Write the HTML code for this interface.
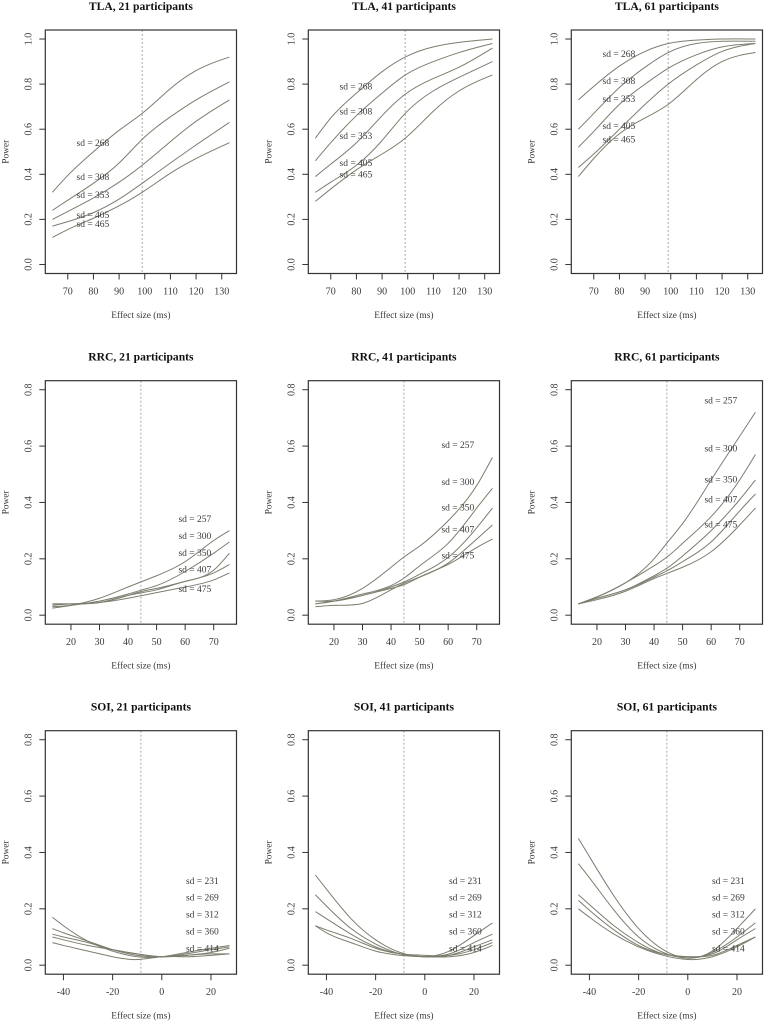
<!DOCTYPE html>
<html>
<head>
<meta charset="utf-8">
<title>Power curves</title>
<style>
html,body{margin:0;padding:0;background:#fff;}
svg{display:block;}
text{font-family:"Liberation Serif",serif;fill:#3a3a3a;}
</style>
</head>
<body>
<svg id="chart" xmlns="http://www.w3.org/2000/svg" width="765" height="1023" viewBox="0 0 765 1023"></svg>
<script>
// Shared sample positions (effect size, ms)
const tlaEffect = [64,70,80,90,99,110,120,133];
const rrcEffect = [13.5,20,30,40,45,50,60,70,75.5];
const soiEffect = [-44.5,-40,-30,-20,-10,0,10,20,27.5];

// Tick labels
const tlaXTicks = [70,80,90,100,110,120,130];
const rrcXTicks = [20,30,40,50,60,70];
const soiXTicks = [-40,-20,0,20];
const tlaYTicks = ["0.0","0.2","0.4","0.6","0.8","1.0"];
const lowYTicks = ["0.0","0.2","0.4","0.6","0.8"];

// Standard deviations
const tlaSd = [268,308,353,405,465];
const rrcSd = [257,300,350,407,475];
const soiSd = [231,269,312,360,414];

// Reference effect sizes (dotted lines)
const tlaRef = 99;
const rrcRef = 44.5;
const soiRef = -8.5;

// Annotation anchors (effect size / power)
const tlaLabelX = 79.8;
const rrcLabelX = 63.4;
const soiLabelX = 16.5;
const tla21LabelPower = [0.54,0.39,0.31,0.22,0.18];
const tla41LabelPower = [0.79,0.68,0.57,0.45,0.40];
const tla61LabelPower = [0.935,0.815,0.735,0.615,0.555];
const rrc21LabelPower = [0.342,0.282,0.222,0.162,0.094];
const rrc41LabelPower = [0.604,0.473,0.383,0.304,0.213];
const rrc61LabelPower = [0.763,0.592,0.483,0.412,0.323];
const soiLabelPower = [0.30,0.24,0.18,0.12,0.06];

// Power values
const tla21Power = [
  [0.32,0.395,0.50,0.595,0.67,0.78,0.86,0.92],
  [0.24,0.285,0.36,0.45,0.555,0.655,0.73,0.81],
  [0.20,0.235,0.295,0.365,0.44,0.545,0.635,0.73],
  [0.17,0.19,0.23,0.29,0.36,0.45,0.53,0.63],
  [0.12,0.155,0.205,0.26,0.32,0.405,0.47,0.54]
];
const tla41Power = [
  [0.56,0.65,0.76,0.855,0.92,0.965,0.985,1.0],
  [0.46,0.54,0.66,0.76,0.84,0.90,0.94,0.98],
  [0.39,0.445,0.54,0.66,0.755,0.825,0.875,0.96],
  [0.32,0.365,0.44,0.55,0.67,0.77,0.83,0.90],
  [0.28,0.335,0.42,0.49,0.56,0.68,0.77,0.84]
];
const tla61Power = [
  [0.73,0.79,0.88,0.945,0.98,0.995,1.0,1.0],
  [0.60,0.67,0.785,0.875,0.94,0.98,0.99,0.99],
  [0.52,0.59,0.71,0.80,0.87,0.93,0.965,0.98],
  [0.43,0.49,0.60,0.71,0.80,0.885,0.945,0.98],
  [0.39,0.47,0.58,0.65,0.71,0.82,0.90,0.94]
];
const rrc21Power = [
  [0.025,0.035,0.06,0.10,0.12,0.14,0.19,0.265,0.30],
  [0.03,0.035,0.05,0.075,0.09,0.105,0.155,0.22,0.26],
  [0.04,0.04,0.045,0.07,0.08,0.09,0.12,0.16,0.22],
  [0.04,0.04,0.045,0.07,0.085,0.095,0.12,0.15,0.18],
  [0.035,0.04,0.045,0.06,0.07,0.08,0.10,0.125,0.15]
];
const rrc41Power = [
  [0.05,0.055,0.095,0.17,0.21,0.245,0.335,0.46,0.56],
  [0.04,0.05,0.075,0.105,0.135,0.175,0.255,0.38,0.45],
  [0.04,0.05,0.07,0.10,0.12,0.145,0.205,0.31,0.38],
  [0.03,0.035,0.042,0.09,0.115,0.135,0.185,0.27,0.32],
  [0.05,0.05,0.07,0.095,0.11,0.135,0.18,0.24,0.27]
];
const rrc61Power = [
  [0.04,0.065,0.115,0.20,0.262,0.325,0.48,0.635,0.72],
  [0.04,0.065,0.115,0.175,0.21,0.255,0.35,0.48,0.57],
  [0.04,0.06,0.09,0.14,0.17,0.21,0.30,0.41,0.48],
  [0.04,0.06,0.09,0.135,0.16,0.19,0.26,0.37,0.43],
  [0.04,0.055,0.085,0.13,0.15,0.17,0.225,0.32,0.38]
];
const soi21Power = [
  [0.17,0.14,0.085,0.05,0.03,0.03,0.045,0.06,0.07],
  [0.13,0.115,0.085,0.055,0.035,0.03,0.04,0.055,0.065],
  [0.11,0.10,0.08,0.055,0.04,0.03,0.035,0.045,0.06],
  [0.10,0.09,0.07,0.055,0.04,0.03,0.035,0.04,0.04],
  [0.08,0.07,0.05,0.03,0.02,0.03,0.03,0.035,0.04]
];
const soi41Power = [
  [0.32,0.27,0.165,0.09,0.045,0.03,0.05,0.105,0.15],
  [0.25,0.21,0.13,0.075,0.04,0.03,0.04,0.08,0.11],
  [0.19,0.165,0.11,0.065,0.04,0.03,0.035,0.065,0.09],
  [0.14,0.125,0.095,0.06,0.04,0.035,0.035,0.055,0.08],
  [0.14,0.115,0.08,0.05,0.035,0.03,0.03,0.045,0.07]
];
const soi61Power = [
  [0.45,0.385,0.245,0.13,0.055,0.025,0.05,0.13,0.20],
  [0.36,0.31,0.195,0.10,0.045,0.025,0.045,0.10,0.15],
  [0.25,0.215,0.14,0.08,0.04,0.03,0.04,0.09,0.13],
  [0.23,0.195,0.125,0.07,0.04,0.03,0.035,0.07,0.10],
  [0.20,0.17,0.11,0.065,0.035,0.02,0.03,0.065,0.10]
];

const panels = [
  {t:"TLA, 21 participants",k:"tla-21",c:0,r:0,x:tlaEffect,s:tla21Power,sd:tlaSd,lx:tlaLabelX,ly:tla21LabelPower,ref:tlaRef,xt:tlaXTicks,yt:tlaYTicks,ymax:1},
  {t:"TLA, 41 participants",k:"tla-41",c:1,r:0,x:tlaEffect,s:tla41Power,sd:tlaSd,lx:tlaLabelX,ly:tla41LabelPower,ref:tlaRef,xt:tlaXTicks,yt:tlaYTicks,ymax:1},
  {t:"TLA, 61 participants",k:"tla-61",c:2,r:0,x:tlaEffect,s:tla61Power,sd:tlaSd,lx:tlaLabelX,ly:tla61LabelPower,ref:tlaRef,xt:tlaXTicks,yt:tlaYTicks,ymax:1},
  {t:"RRC, 21 participants",k:"rrc-21",c:0,r:1,x:rrcEffect,s:rrc21Power,sd:rrcSd,lx:rrcLabelX,ly:rrc21LabelPower,ref:rrcRef,xt:rrcXTicks,yt:lowYTicks,ymax:0.8},
  {t:"RRC, 41 participants",k:"rrc-41",c:1,r:1,x:rrcEffect,s:rrc41Power,sd:rrcSd,lx:rrcLabelX,ly:rrc41LabelPower,ref:rrcRef,xt:rrcXTicks,yt:lowYTicks,ymax:0.8},
  {t:"RRC, 61 participants",k:"rrc-61",c:2,r:1,x:rrcEffect,s:rrc61Power,sd:rrcSd,lx:rrcLabelX,ly:rrc61LabelPower,ref:rrcRef,xt:rrcXTicks,yt:lowYTicks,ymax:0.8},
  {t:"SOI, 21 participants",k:"soi-21",c:0,r:2,x:soiEffect,s:soi21Power,sd:soiSd,lx:soiLabelX,ly:soiLabelPower,ref:soiRef,xt:soiXTicks,yt:lowYTicks,ymax:0.8},
  {t:"SOI, 41 participants",k:"soi-41",c:1,r:2,x:soiEffect,s:soi41Power,sd:soiSd,lx:soiLabelX,ly:soiLabelPower,ref:soiRef,xt:soiXTicks,yt:lowYTicks,ymax:0.8},
  {t:"SOI, 61 participants",k:"soi-61",c:2,r:2,x:soiEffect,s:soi61Power,sd:soiSd,lx:soiLabelX,ly:soiLabelPower,ref:soiRef,xt:soiXTicks,yt:lowYTicks,ymax:0.8}
];

const NS = "http://www.w3.org/2000/svg";
const root = document.getElementById("chart");
const colLeft = [45.3,308.3,571.3];
const rowTop = [30,380.7,730.7];
const boxW = 191.2;
const boxH = 243.5;

function make(parent, tag, attrs, txt){
  const el = document.createElementNS(NS, tag);
  for (const a in attrs) el.setAttribute(a, attrs[a]);
  if (txt !== undefined) el.textContent = txt;
  parent.appendChild(el);
  return el;
}

// Natural cubic spline through the readings, written as Bezier segments
function curve(xs, ys, fx, fy){
  const n = xs.length;
  const h = [], s = [];
  for (let i = 0; i < n-1; i++){
    h.push(xs[i+1]-xs[i]);
    s.push((ys[i+1]-ys[i])/h[i]);
  }
  const a = new Array(n).fill(0), b = new Array(n).fill(0), c = new Array(n).fill(0), r = new Array(n).fill(0);
  b[0] = 2; c[0] = 1; r[0] = 3*s[0];
  for (let i = 1; i < n-1; i++){
    a[i] = h[i];
    b[i] = 2*(h[i-1]+h[i]);
    c[i] = h[i-1];
    r[i] = 3*(h[i]*s[i-1]+h[i-1]*s[i]);
  }
  a[n-1] = 1; b[n-1] = 2; r[n-1] = 3*s[n-2];
  for (let i = 1; i < n; i++){
    const w = a[i]/b[i-1];
    b[i] -= w*c[i-1];
    r[i] -= w*r[i-1];
  }
  const m = new Array(n);
  m[n-1] = r[n-1]/b[n-1];
  for (let i = n-2; i >= 0; i--){
    m[i] = (r[i]-c[i]*m[i+1])/b[i];
  }
  let d = "M"+fx(xs[0]).toFixed(2)+" "+fy(ys[0]).toFixed(2);
  for (let i = 0; i < n-1; i++){
    const c1x = xs[i]+h[i]/3, c1y = ys[i]+m[i]*h[i]/3;
    const c2x = xs[i+1]-h[i]/3, c2y = ys[i+1]-m[i+1]*h[i]/3;
    d += "C"+fx(c1x).toFixed(2)+" "+fy(c1y).toFixed(2)+" "+fx(c2x).toFixed(2)+" "+fy(c2y).toFixed(2)+" "+fx(xs[i+1]).toFixed(2)+" "+fy(ys[i+1]).toFixed(2);
  }
  return d;
}

panels.forEach(function(p){
  const L = colLeft[p.c], T = rowTop[p.r], B = T+boxH, R = L+boxW;
  const xMin = p.x[0], xMax = p.x[p.x.length-1];
  const pad = (xMax-xMin)*0.04;
  const fx = function(v){ return L+(v-(xMin-pad))/((xMax-xMin)+2*pad)*boxW; };
  const yPad = p.ymax*0.04;
  const fy = function(v){ return B-(v+yPad)/(p.ymax+2*yPad)*boxH; };

  const g = make(root, "g", {});
  
  

  const title = make(g, "text", {x:L+boxW/2, y:T-20, "text-anchor":"middle", "font-size":"11.6", "font-weight":"bold", style:"fill:#111"}, p.t);
  
  

  const ref = make(g, "line", {x1:fx(p.ref), x2:fx(p.ref), y1:T, y2:B, stroke:"#a8a8a8", "stroke-width":"1", "stroke-dasharray":"2 2"});
  
  

  p.s.forEach(function(vals, i){
    const path = make(g, "path", {d:curve(p.x, vals, fx, fy), fill:"none", stroke:"#7d7d6e", "stroke-width":"1"});
    
    
  });

  p.sd.forEach(function(sd, i){
    const lab = make(g, "text", {x:fx(p.lx), y:fy(p.ly[i])+3.2, "text-anchor":"middle", "font-size":"9.5"}, "sd = "+sd);
    
    
  });

  const box = make(g, "rect", {x:L, y:T, width:boxW, height:boxH, fill:"none", stroke:"#333", "stroke-width":"1.2"});
  
  

  p.xt.forEach(function(v){
    const tick = make(g, "line", {x1:fx(v), x2:fx(v), y1:B, y2:B+6, stroke:"#333", "stroke-width":"1"});
    
    
    const lab = make(g, "text", {x:fx(v), y:B+21, "text-anchor":"middle", "font-size":"10"}, String(v));
    
    
  });

  p.yt.forEach(function(v){
    const yy = fy(parseFloat(v));
    const tick = make(g, "line", {x1:L-6, x2:L, y1:yy, y2:yy, stroke:"#333", "stroke-width":"1"});
    
    
    const lab = make(g, "text", {x:0, y:0, transform:"translate("+(L-14)+" "+yy+") rotate(-90)", "text-anchor":"middle", "font-size":"10"}, v);
    
    
  });

  const xTitle = make(g, "text", {x:L+boxW/2, y:B+44.5, "text-anchor":"middle", "font-size":"9.4"}, "Effect size (ms)");
  
  

  const yTitle = make(g, "text", {x:0, y:0, transform:"translate("+(L-37)+" "+(T+boxH/2)+") rotate(-90)", "text-anchor":"middle", "font-size":"9.4"}, "Power");
  
  
});
</script>
</body>
</html>
